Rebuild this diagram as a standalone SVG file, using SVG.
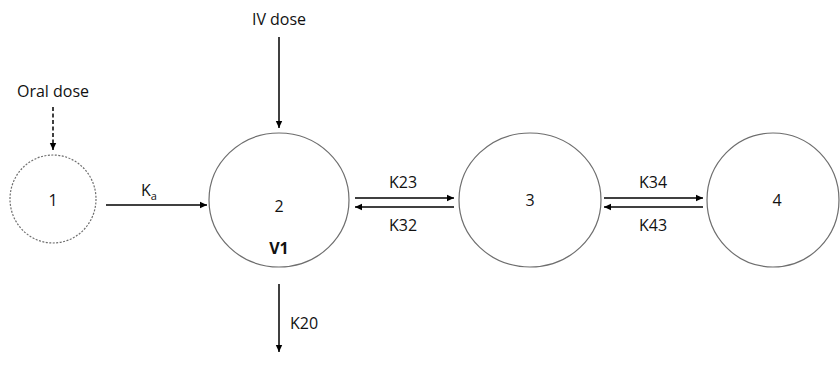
<svg xmlns="http://www.w3.org/2000/svg" width="840" height="374" viewBox="0 0 840 374">
  <style>
    .comp { fill: #ffffff; stroke: #6e6e6e; stroke-width: 1.2; }
    .gut { stroke-dasharray: 2 1.5; }
    .flow { fill: none; stroke: #000000; stroke-width: 1.5; marker-end: url(#head); }
    .dash { stroke-dasharray: 4 2.5; }
    text { font-family: "Open Sans", "Liberation Sans", sans-serif; font-size: 16px; fill: #111111; text-anchor: middle; }
    .bold { font-weight: bold; }
  </style>
  <defs>
    <marker id="head" markerWidth="8" markerHeight="8" refX="7" refY="4" orient="auto" markerUnits="userSpaceOnUse">
      <path d="M0,0.8 L7,4 L0,7.2 Z" fill="#000000"/>
    </marker>
  </defs>

  <!-- compartments -->
  <g id="compartment-1">
    <ellipse class="comp gut" cx="53" cy="199" rx="43" ry="44"/>
    <text x="53" y="206">1</text>
  </g>
  <g id="compartment-2">
    <ellipse class="comp" cx="279" cy="200" rx="70" ry="67"/>
    <text x="279" y="212">2</text>
    <text class="bold" x="279" y="254">V1</text>
  </g>
  <g id="compartment-3">
    <ellipse class="comp" cx="530" cy="200" rx="71" ry="67"/>
    <text x="530" y="206">3</text>
  </g>
  <g id="compartment-4">
    <ellipse class="comp" cx="773" cy="200" rx="66" ry="67"/>
    <text x="777" y="206">4</text>
  </g>

  <!-- dosing labels -->
  <g id="labels">
    <text x="53" y="97">Oral dose</text>
    <text x="279" y="25">IV dose</text>
    <text x="149" y="196">K<tspan font-size="11" dy="4">a</tspan></text>
    <text x="403" y="188">K23</text>
    <text x="403" y="231">K32</text>
    <text x="653" y="188">K34</text>
    <text x="653" y="231">K43</text>
    <text x="304" y="329">K20</text>
  </g>

  <!-- transfer arrows -->
  <g id="connectors">
    <line class="flow dash" x1="53" y1="107" x2="53" y2="150"/>
    <line class="flow" x1="279" y1="37" x2="279" y2="128"/>
    <line class="flow" x1="106" y1="205" x2="207" y2="205"/>
    <line class="flow" x1="355" y1="198" x2="454" y2="198"/>
    <line class="flow" x1="454" y1="207" x2="355" y2="207"/>
    <line class="flow" x1="604" y1="198" x2="703" y2="198"/>
    <line class="flow" x1="703" y1="207" x2="604" y2="207"/>
    <line class="flow" x1="279" y1="284" x2="279" y2="352"/>
  </g>
</svg>
